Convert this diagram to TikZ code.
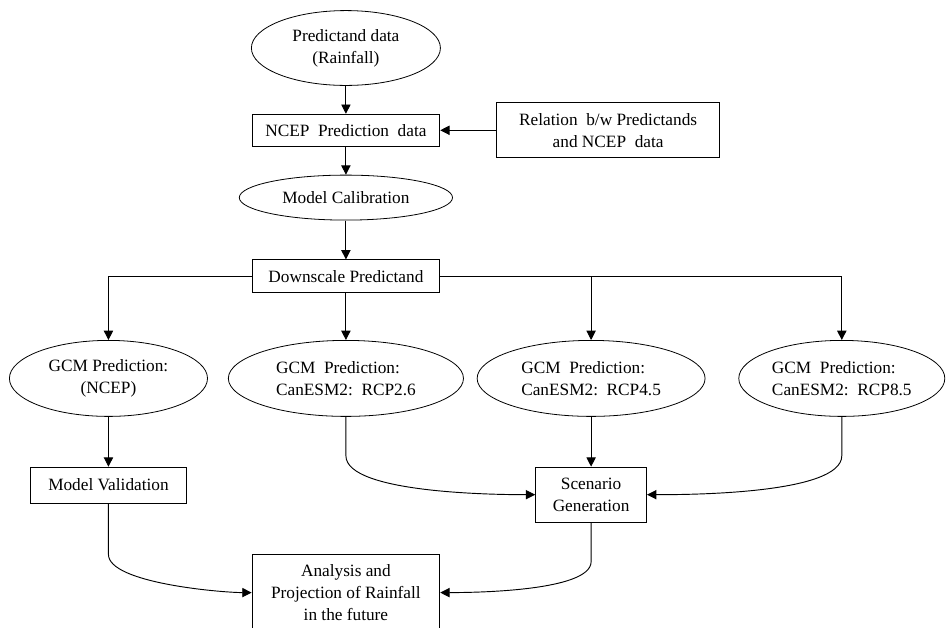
\documentclass[tikz,border=0pt]{standalone}
\usepackage{fontspec}
\setmainfont{Liberation Serif}
\usetikzlibrary{shapes,arrows.meta,positioning,calc}

\begin{document}
\begin{tikzpicture}[
    node distance=0.74cm,
    data/.style={ellipse, draw=black, line width=0.6pt, inner sep=0pt, align=center, font=\fontsize{13}{16.5}\selectfont},
    gcm/.style={ellipse, draw=black, line width=0.6pt, inner sep=0pt, align=left, minimum height=2.01cm, font=\fontsize{13}{16.5}\selectfont},
    stepbox/.style={rectangle, draw=black, line width=0.6pt, inner sep=0pt, align=center, font=\fontsize{13}{16.5}\selectfont},
    arrow/.style={-{Triangle[length=7pt, width=7pt]}, line width=0.7pt},
]
\useasboundingbox (0,0) rectangle (25.05,-16.61);

% Calibration chain
\node[data, minimum width=5cm, minimum height=1.98cm] (rain) at (9.15,-1.27) {Predictand data\\(Rainfall)};
\node[stepbox, below=0.74cm of rain, minimum width=4.97cm, minimum height=0.85cm] (ncep) {NCEP\ \ Prediction\ \ data};
\node[stepbox, right=1.48cm of ncep, minimum width=5.9cm, minimum height=1.46cm] (relation) {Relation\ \ b/w Predictands\\and NCEP\ \ data};
\node[data, below=0.74cm of ncep, minimum width=5.64cm, minimum height=1.19cm] (calib) {Model Calibration};
\node[stepbox, below=1.03cm of calib, minimum width=4.97cm, minimum height=0.87cm] (down) {Downscale Predictand};

% GCM predictions
\node[gcm, below=1.24cm of down, minimum width=6.22cm] (rcp26) {GCM\ \ Prediction:\\CanESM2:\ \ RCP2.6};
\node[gcm, left=0.53cm of rcp26, minimum width=5.24cm, align=center] (gcmncep) {GCM Prediction:\\(NCEP)};
\node[gcm, right=0.34cm of rcp26, minimum width=6.03cm] (rcp45) {GCM\ \ Prediction:\\CanESM2:\ \ RCP4.5};
\node[gcm, right=0.87cm of rcp45, minimum width=5.45cm] (rcp85) {GCM\ \ Prediction:\\CanESM2:\ \ RCP8.5};

% Validation, scenarios and projection
\node[stepbox, below=1.32cm of gcmncep, minimum width=4.13cm, minimum height=0.95cm] (valid) {Model Validation};
\node[stepbox, below=1.32cm of rcp45, minimum width=2.94cm, minimum height=1.46cm] (scen) {Scenario\\Generation};
\node[stepbox, below=3.62cm of rcp26, minimum width=4.97cm, minimum height=2.04cm] (anal) {Analysis and\\Projection of Rainfall\\in the future};

% Arrows - calibration
\draw[arrow] (rain) -- (ncep);
\draw[arrow] (relation) -- (ncep);
\draw[arrow] (ncep) -- (calib);
\draw[arrow] (calib) -- (down);

% Arrows - downscaling to GCMs
\draw[arrow] (down.west) -| (gcmncep);
\draw[arrow] (down) -- (rcp26);
\draw[arrow] (down.east) -| (rcp45);
\draw[arrow] (down.east) -| (rcp85);

% Arrows - GCMs to scenario and validation
\draw[arrow] (gcmncep) -- (valid);
\draw[arrow] (rcp45) -- (scen);
\draw[arrow] (rcp26.south) -- ++(0,-1.03) to[out=-90, in=180, looseness=0.5] (scen.west);
\draw[arrow] (rcp85.south) -- ++(0,-1.03) to[out=-90, in=0, looseness=0.5] (scen.east);

% Arrows - to projection
\draw[arrow] (valid.south) -- ++(0,-1.35) to[out=-90, in=180, looseness=0.5] (anal.west);
\draw[arrow] (scen.south) -- ++(0,-1.03) to[out=-90, in=0, looseness=0.5] (anal.east);

\end{tikzpicture}
\end{document}
